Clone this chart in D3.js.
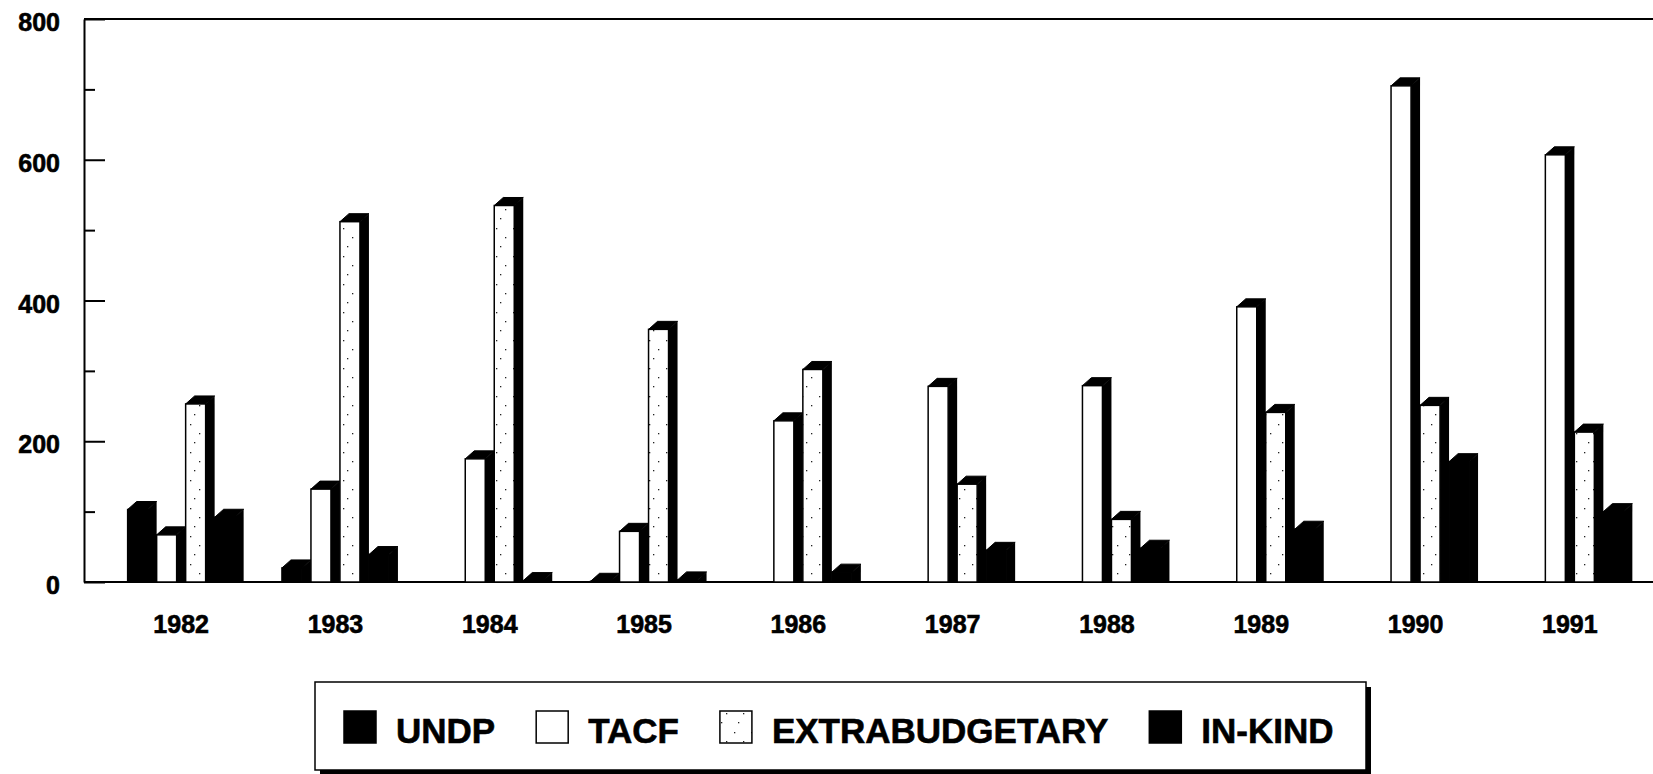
<!DOCTYPE html>
<meta charset="utf-8">
<style>
    body { margin: 0; background: #fff; }
    svg { display: block; }
    text {
        font-family: "Liberation Sans", Arial, Helvetica, sans-serif;
        font-weight: bold;
        fill: #000;
        stroke: #000;
        stroke-width: 0.6px;
    }
    .frame { stroke: #000; stroke-width: 2; fill: none; }
    .axis path, .axis line { stroke: #000; stroke-width: 2; }
    .bar-front { stroke: #000; stroke-width: 1.5; }
</style>
<body>
    <svg width="1653" height="774"></svg>
</body>
<script src="https://d3js.org/d3.v7.min.js"></script>
<script>
    // values
    var years = ["1982", "1983", "1984", "1985", "1986", "1987", "1988", "1989", "1990", "1991"];
    var seriesNames = ["UNDP", "TACF", "EXTRABUDGETARY", "IN-KIND"];
    var undp = [103, 20, 0, 1, 0, 0, 0, 0, 0, 0];
    var tacf = [67, 132, 175, 72, 229, 278, 279, 391, 705, 607];
    var extrabudgetary = [253, 512, 535, 359, 302, 139, 89, 241, 251, 213];
    var inKind = [92, 39, 2, 3, 14, 45, 48, 75, 171, 100];
    var majorTicks = [0, 200, 400, 600, 800];
    var minorTicks = [100, 300, 500, 700];

    function drawChart() {
        var seriesValues = [undp, tacf, extrabudgetary, inKind];
        var seriesFill = ["#000", "#fff", "url(#stipple)", "#000"];

        var svg = d3.select("svg"),
            width = +svg.attr("width"),
            plotLeft = 84, plotTop = 19, plotBottom = 582;

        // sparse stipple for the extrabudgetary bars
        var defs = svg.append("defs");
        var pat = defs.append("pattern")
            .attr("id", "stipple")
            .attr("patternUnits", "userSpaceOnUse")
            .attr("width", 17)
            .attr("height", 28);
        pat.append("rect").attr("width", 17).attr("height", 28).attr("fill", "#fff");
        [[3, 4], [12, 13], [7, 22]].forEach(function (p) {
            pat.append("rect")
                .attr("x", p[0]).attr("y", p[1])
                .attr("width", 1.3).attr("height", 1.3)
                .attr("fill", "#222");
        });

        var y = d3.scaleLinear()
            .domain([0, 800])
            .range([plotBottom, plotTop]);

        var x = d3.scaleBand()
            .domain(years)
            .range([104, 104 + 154.3 * years.length]);

        var depthX = 9, depthY = 8;
        var xInner = d3.scaleBand()
            .domain(seriesNames)
            .range([0, 116]);
        var faceW = xInner.bandwidth() - depthX;
        var frontSpan = xInner.step() * (seriesNames.length - 1) + faceW;

        // frame: top line and base line
        svg.append("line").attr("class", "frame")
            .attr("x1", plotLeft).attr("x2", width).attr("y1", plotTop).attr("y2", plotTop);
        svg.append("line").attr("class", "frame")
            .attr("x1", plotLeft).attr("x2", width).attr("y1", plotBottom).attr("y2", plotBottom);

        // y axis, ticks pointing into the plot
        var yAxis = svg.append("g")
            .attr("class", "axis")
            .attr("transform", "translate(" + plotLeft + ",0)")
            .call(d3.axisLeft(y)
                .tickValues(majorTicks)
                .tickSizeInner(-21)
                .tickSizeOuter(0)
                .tickPadding(24));
        yAxis.selectAll("text")
            .style("font-size", "25px")
            .attr("dy", "0.46em");

        svg.append("g")
            .attr("class", "axis")
            .attr("transform", "translate(" + plotLeft + ",0)")
            .call(d3.axisLeft(y)
                .tickValues(minorTicks)
                .tickSizeInner(-11)
                .tickSizeOuter(0)
                .tickFormat(""))
            .select(".domain").remove();

        // year labels
        var xAxis = svg.append("g")
            .attr("class", "axis")
            .attr("transform", "translate(0," + plotBottom + ")")
            .call(d3.axisBottom(x).tickSize(0).tickPadding(33));
        xAxis.select(".domain").remove();
        xAxis.selectAll("text").style("font-size", "25px");

        // bars
        var bars = [];
        years.forEach(function (yr, i) {
            seriesNames.forEach(function (s, j) {
                bars.push({ year: yr, series: s, value: seriesValues[j][i], fill: seriesFill[j] });
            });
        });

        var bar = svg.append("g").selectAll("g")
            .data(bars.filter(function (d) { return d.value > 0; }))
            .enter().append("g");

        function x0(d) {
            return x(d.year) + (x.bandwidth() - frontSpan) / 2 + xInner(d.series);
        }

        // right side face
        bar.append("polygon")
            .attr("fill", "#000")
            .attr("points", function (d) {
                var a = x0(d) + faceW, t = y(d.value);
                return [[a, t], [a + depthX, t - depthY], [a + depthX, plotBottom], [a, plotBottom]].join(" ");
            });

        // top face
        bar.append("polygon")
            .attr("fill", "#000")
            .attr("stroke", "#000")
            .attr("stroke-linejoin", "round")
            .attr("stroke-width", 1)
            .attr("points", function (d) {
                var a = x0(d), t = y(d.value);
                return [[a, t], [a + depthX, t - depthY], [a + faceW + depthX, t - depthY], [a + faceW, t]].join(" ");
            });

        // front face
        bar.append("rect")
            .attr("class", "bar-front")
            .attr("x", x0)
            .attr("y", function (d) { return y(d.value); })
            .attr("width", faceW)
            .attr("height", function (d) { return plotBottom - y(d.value); })
            .attr("fill", function (d) { return d.fill; });

        // legend
        var legendX = 315, legendY = 682, legendW = 1051, legendH = 88;
        var legend = svg.append("g");
        legend.append("rect")
            .attr("x", legendX + 5).attr("y", legendY + 5)
            .attr("width", legendW).attr("height", legendH)
            .attr("fill", "#000");
        legend.append("rect")
            .attr("x", legendX).attr("y", legendY)
            .attr("width", legendW).attr("height", legendH)
            .attr("fill", "#fff")
            .attr("stroke", "#000")
            .attr("stroke-width", 1.5);

        var sw = 32, gapText = 20, gapItem = 41;
        var cx = 344;
        seriesNames.forEach(function (s, j) {
            legend.append("rect")
                .attr("x", cx).attr("y", 711)
                .attr("width", sw).attr("height", sw)
                .attr("fill", seriesFill[j])
                .attr("stroke", "#000")
                .attr("stroke-width", 1.5);
            cx += sw + gapText;
            var t = legend.append("text")
                .attr("x", cx).attr("y", 743)
                .style("font-size", "35px")
                .text(s);
            cx += t.node().getComputedTextLength() + gapItem;
        });
    }
    drawChart();
</script>
